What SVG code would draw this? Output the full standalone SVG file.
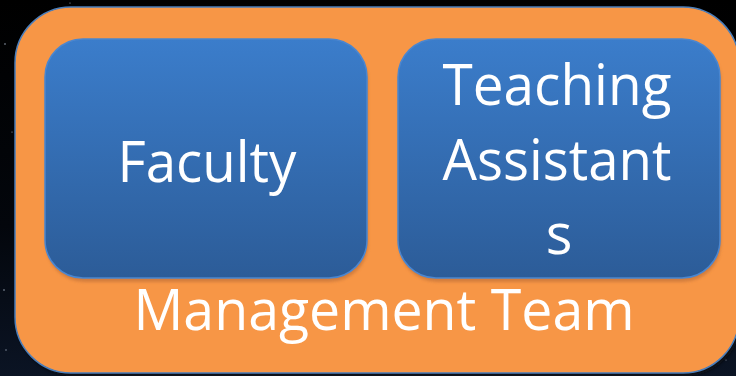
<svg xmlns="http://www.w3.org/2000/svg" width="736" height="376" viewBox="0 0 736 376">
  <defs>
    <linearGradient id="sky" x1="0" y1="0" x2="0" y2="1">
      <stop offset="0" stop-color="#000000"/>
      <stop offset="0.6" stop-color="#03060c"/>
      <stop offset="1" stop-color="#0b1424"/>
    </linearGradient>
    <linearGradient id="boxFill" x1="0" y1="0" x2="0" y2="1">
      <stop offset="0" stop-color="#3b7dcb"/>
      <stop offset="1" stop-color="#2c5c98"/>
    </linearGradient>
    <filter id="soft" x="-5%" y="-5%" width="110%" height="115%">
      <feGaussianBlur stdDeviation="1.5"/>
    </filter>
    <style>
      .label { font-family: "Open Sans", "Liberation Sans", sans-serif; font-size: 56px; fill: #ffffff; text-anchor: middle; }
      .box { fill: url(#boxFill); stroke: #4a86d0; stroke-width: 1.5; }
      .boxShadow { fill: #c9773a; opacity: 0.8; }
    </style>
  </defs>

  <!-- night background -->
  <rect x="0" y="0" width="736" height="376" fill="url(#sky)"/>
  <g fill="#9aa4b4">
    <circle cx="5" cy="44" r="0.8"/>
    <circle cx="12" cy="132" r="0.6"/>
    <circle cx="4" cy="290" r="0.8"/>
    <circle cx="6" cy="350" r="0.7"/>
    <circle cx="70" cy="3" r="0.6"/>
    <circle cx="726" cy="360" r="0.6"/>
  </g>

  <!-- outer container: Management Team -->
  <g id="management-team">
    <rect x="17" y="10" width="724" height="366" rx="56" fill="#0d0d0d" opacity="0.7" filter="url(#soft)"/>
    <rect x="15" y="7" width="724" height="366" rx="56" fill="#f79646" stroke="#4a7ebb" stroke-width="1.5"/>
    <text class="label" x="384" y="330" textLength="501" lengthAdjust="spacingAndGlyphs">Management Team</text>
  </g>

  <!-- inner node: Faculty -->
  <g id="faculty">
    <rect class="boxShadow" x="46" y="42" width="322" height="240" rx="38" filter="url(#soft)"/>
    <rect class="box" x="45" y="39" width="322" height="239" rx="38"/>
    <text class="label" x="207" y="182" textLength="179" lengthAdjust="spacingAndGlyphs">Faculty</text>
  </g>

  <!-- inner node: Teaching Assistants -->
  <g id="teaching-assistants">
    <rect class="boxShadow" x="399" y="42" width="322" height="240" rx="38" filter="url(#soft)"/>
    <rect class="box" x="398" y="39" width="322" height="239" rx="38"/>
    <text class="label" x="557" y="105" textLength="229" lengthAdjust="spacingAndGlyphs">Teaching</text>
    <text class="label" x="557" y="180" textLength="229" lengthAdjust="spacingAndGlyphs">Assistant</text>
    <text class="label" x="559" y="254">s</text>
  </g>

  <!-- no connectors in this diagram -->
  <g id="connectors"/>
</svg>
